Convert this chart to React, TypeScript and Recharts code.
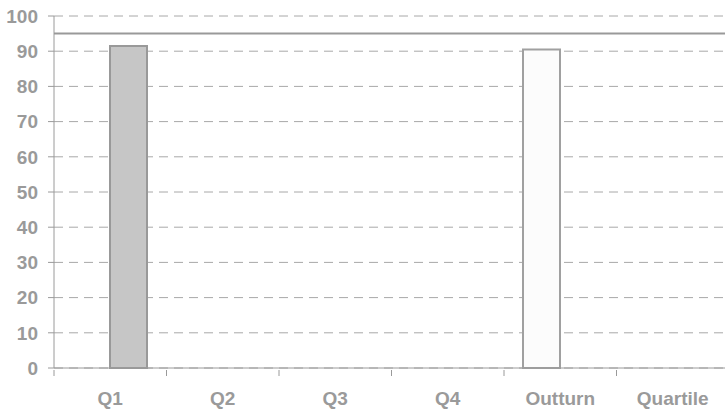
import React from 'react';
import { Bar, BarChart, CartesianGrid, ReferenceLine, XAxis, YAxis } from 'recharts';

const categories = ['Q1', 'Q2', 'Q3', 'Q4', 'Outturn', 'Quartile'];
const quarterValues: (number | null)[] = [91.5, null, null, null, null, null];
const outturnValues: (number | null)[] = [null, null, null, null, 90.5, null];
const targetValue = 95;
const yTicks = [0, 10, 20, 30, 40, 50, 60, 70, 80, 90, 100];

const axisGrey = '#9a9a9a';
const font = '"Liberation Sans", Arial, sans-serif';

// tick marks sit on category boundaries, labels in the middle of each band
function CategoryTick(props: any) {
  const { x, y, payload } = props;
  const half = payload.offset ?? 0;
  return (
    <g>
      <line x1={x - half} x2={x - half} y1={y - 6} y2={y} stroke={axisGrey} strokeWidth={1} />
      <text
        x={x}
        y={y + 16}
        dy="0.71em"
        textAnchor="middle"
        fill={axisGrey}
        fontFamily={font}
        fontWeight="bold"
        fontSize={19}
      >
        {payload.value}
      </text>
    </g>
  );
}

export default function App() {
  const data = categories.map((name, i) => ({
    name,
    outturn: outturnValues[i],
    quarter: quarterValues[i],
  }));

  return (
    <div style={{ position: 'absolute', left: 0, top: 0, width: 725, height: 412, overflow: 'hidden', background: '#fff' }}>
      <BarChart
        width={729}
        height={412}
        data={data}
        margin={{ top: 16, right: 0, bottom: 0, left: 0 }}
        barGap={0}
        barSize={37}
      >
        <CartesianGrid vertical={false} stroke="#a8a8a8" strokeDasharray="9 6" />
        <XAxis
          dataKey="name"
          height={44}
          stroke={axisGrey}
          tickLine={false}
          tick={<CategoryTick />}
          interval={0}
        />
        <YAxis
          width={54}
          domain={[0, 100]}
          ticks={yTicks}
          interval={0}
          stroke={axisGrey}
          tickSize={6}
          tickMargin={10}
          tick={{ fill: axisGrey, fontFamily: font, fontWeight: 'bold', fontSize: 19 }}
        />
        <Bar dataKey="outturn" fill="#fcfcfc" stroke="#a0a0a0" strokeWidth={2} isAnimationActive={false} />
        <Bar dataKey="quarter" fill="#c6c6c6" stroke="#999999" strokeWidth={2} isAnimationActive={false} />
        <ReferenceLine y={targetValue} stroke="#999999" strokeWidth={2} />
      </BarChart>
    </div>
  );
}
